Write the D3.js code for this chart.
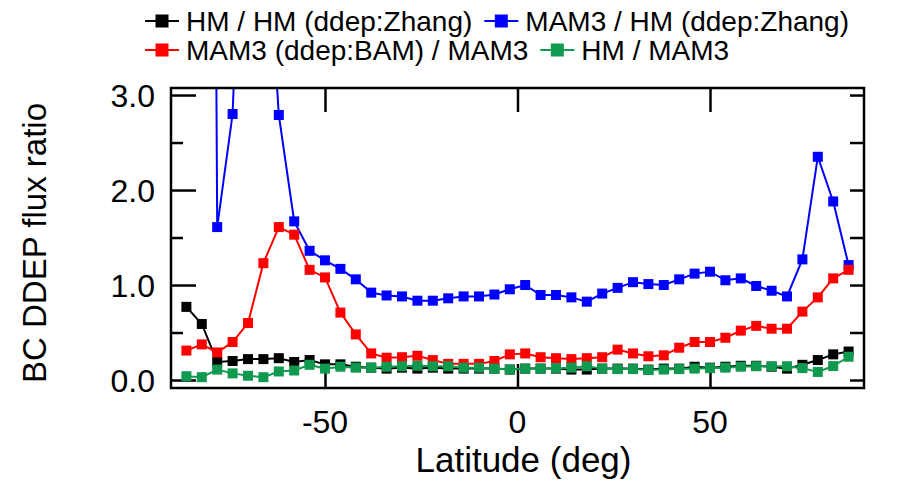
<!DOCTYPE html>
<html>
<head>
<meta charset="utf-8">
<script src="https://cdn.jsdelivr.net/npm/d3@7"></script>
<style>
  html, body { margin: 0; padding: 0; background: #fff; }
  svg { display: block; font-family: "Liberation Sans", Arial, sans-serif; }
</style>
</head>
<body>
<svg id="chart" width="902" height="481"></svg>
<script>
// ---- data ----
const latitudes = [-86,-82,-78,-74,-70,-66,-62,-58,-54,-50,-46,-42,-38,-34,-30,-26,-22,-18,-14,-10,-6,-2,
                   2,6,10,14,18,22,26,30,34,38,42,46,50,54,58,62,66,70,74,78,82,86];
const seriesNames = ["HM / HM (ddep:Zhang)", "MAM3 / HM (ddep:Zhang)", "MAM3 (ddep:BAM) / MAM3", "HM / MAM3"];
const seriesColors = ["#000000", "#0000ff", "#ff0000", "#109a50"];
const hmZhang = [0.77,0.59,0.19,0.20,0.22,0.22,0.23,0.19,0.21,0.165,0.165,0.14,0.13,0.12,0.13,0.12,0.13,0.12,0.12,0.12,0.12,0.11,
                 0.12,0.12,0.12,0.11,0.11,0.12,0.12,0.12,0.11,0.12,0.12,0.14,0.13,0.14,0.15,0.15,0.14,0.12,0.16,0.21,0.27,0.30];
const mam3HmZhang = [25,30,1.61,2.80,7.0,5.4,2.79,1.67,1.36,1.26,1.17,1.06,0.92,0.89,0.88,0.835,0.835,0.86,0.88,0.88,0.90,0.955,
                     1.0,0.895,0.895,0.87,0.825,0.91,0.97,1.03,1.01,1.0,1.06,1.12,1.14,1.05,1.07,0.99,0.94,0.88,1.27,2.35,1.88,1.21];
const mam3Bam = [0.31,0.375,0.29,0.40,0.60,1.23,1.61,1.53,1.16,1.08,0.71,0.48,0.28,0.235,0.24,0.255,0.21,0.17,0.17,0.17,0.20,0.27,
                 0.28,0.24,0.23,0.22,0.23,0.24,0.32,0.28,0.25,0.26,0.34,0.40,0.40,0.445,0.52,0.57,0.54,0.54,0.72,0.87,1.07,1.16];
const hmMam3 = [0.04,0.03,0.11,0.07,0.045,0.03,0.09,0.10,0.16,0.12,0.14,0.13,0.13,0.14,0.145,0.15,0.145,0.145,0.13,0.13,0.12,0.11,
                0.12,0.12,0.125,0.13,0.145,0.12,0.115,0.115,0.105,0.11,0.115,0.12,0.125,0.13,0.14,0.145,0.145,0.145,0.125,0.085,0.147,0.245];
const xTicks = [-50, 0, 50];
const yTicks = [0, 1, 2, 3];
const yMinorTicks = [0.5, 1.5, 2.5];
const yRightTicks = [0, 0.5, 1, 1.5, 2, 2.5, 3];
const xLabel = "Latitude (deg)";
const yLabel = "BC DDEP flux ratio";

const allSeries = [hmZhang, mam3HmZhang, mam3Bam, hmMam3];

// ---- layout ----
const svg = d3.select("#chart");
const L = 171, R = 864, T = 88, B = 388;
const x = d3.scaleLinear().domain([-90, 90]).range([L, R]);
const y = d3.scaleLinear().domain([-0.084, 3.074]).range([B, T]);

svg.append("defs").append("clipPath").attr("id", "clip")
  .append("rect").attr("x", L).attr("y", T).attr("width", R - L).attr("height", B - T);

// axes (ticks inward)
const tickFont = "32px";
const axisLeft = svg.append("g").attr("transform", `translate(${L},0)`)
  .call(d3.axisRight(y).tickValues(yTicks).tickSize(25).tickFormat(d3.format(".1f")));
axisLeft.selectAll("text").remove();
svg.append("g").attr("transform", `translate(${L},0)`)
  .call(d3.axisRight(y).tickValues(yMinorTicks).tickSize(12).tickFormat(""));
svg.append("g").attr("transform", `translate(${R},0)`)
  .call(d3.axisLeft(y).tickValues(yRightTicks).tickSize(14).tickFormat(""));
svg.append("g").attr("transform", `translate(0,${B})`)
  .call(d3.axisTop(x).tickValues(xTicks).tickSize(24).tickFormat(""));
svg.append("g").attr("transform", `translate(0,${T})`)
  .call(d3.axisBottom(x).tickValues(xTicks).tickSize(24).tickFormat(""));
svg.selectAll(".domain").remove();
svg.selectAll(".tick line").attr("stroke", "#000").attr("stroke-width", 2.5);

// tick labels
svg.append("g").selectAll("text").data(yTicks).join("text")
  .attr("x", L - 16).attr("y", d => y(d)).attr("dy", "0.36em")
  .attr("text-anchor", "end").style("font-size", tickFont).text(d3.format(".1f"));
svg.append("g").selectAll("text").data(xTicks).join("text")
  .attr("x", d => x(d)).attr("y", 433)
  .attr("text-anchor", "middle").style("font-size", tickFont).text(d => d);

// axis titles
svg.append("text").attr("x", x(0) + 6).attr("y", 472).attr("text-anchor", "middle")
  .style("font-size", "35px").text(xLabel);
svg.append("text").attr("transform", `translate(46,${(T + B) / 2 + 5}) rotate(-90)`)
  .attr("text-anchor", "middle").style("font-size", "33px").text(yLabel);

// series
const line = d3.line().x((d, i) => x(latitudes[i])).y(d => y(d));
const plot = svg.append("g").attr("clip-path", "url(#clip)");
allSeries.forEach((vals, k) => {
  plot.append("path").datum(vals).attr("d", line)
    .attr("fill", "none").attr("stroke", seriesColors[k]).attr("stroke-width", 2);
  plot.append("g").selectAll("rect").data(vals).join("rect")
    .attr("x", (d, i) => x(latitudes[i]) - 5).attr("y", d => y(d) - 5)
    .attr("width", 10).attr("height", 10).attr("fill", seriesColors[k]);
});

// frame
svg.append("rect").attr("x", L).attr("y", T).attr("width", R - L).attr("height", B - T)
  .attr("fill", "none").attr("stroke", "#000").attr("stroke-width", 2.5);

// legend
const legendFont = "28px";
const rows = [[0, 1], [2, 3]];
const rowY = [21, 50];
rows.forEach((row, r) => {
  let cx = 145;
  row.forEach(k => {
    const g = svg.append("g");
    g.append("line").attr("x1", cx).attr("x2", cx + 34).attr("y1", rowY[r]).attr("y2", rowY[r])
      .attr("stroke", seriesColors[k]).attr("stroke-width", 2);
    g.append("rect").attr("x", cx + 17 - 6.5).attr("y", rowY[r] - 6.5).attr("width", 13).attr("height", 13)
      .attr("fill", seriesColors[k]);
    const t = g.append("text").attr("x", cx + 41).attr("y", rowY[r]).attr("dy", "0.36em")
      .style("font-size", legendFont).text(seriesNames[k]);
    cx = cx + 41 + t.node().getComputedTextLength() + 12;
  });
});
</script>
</body>
</html>
